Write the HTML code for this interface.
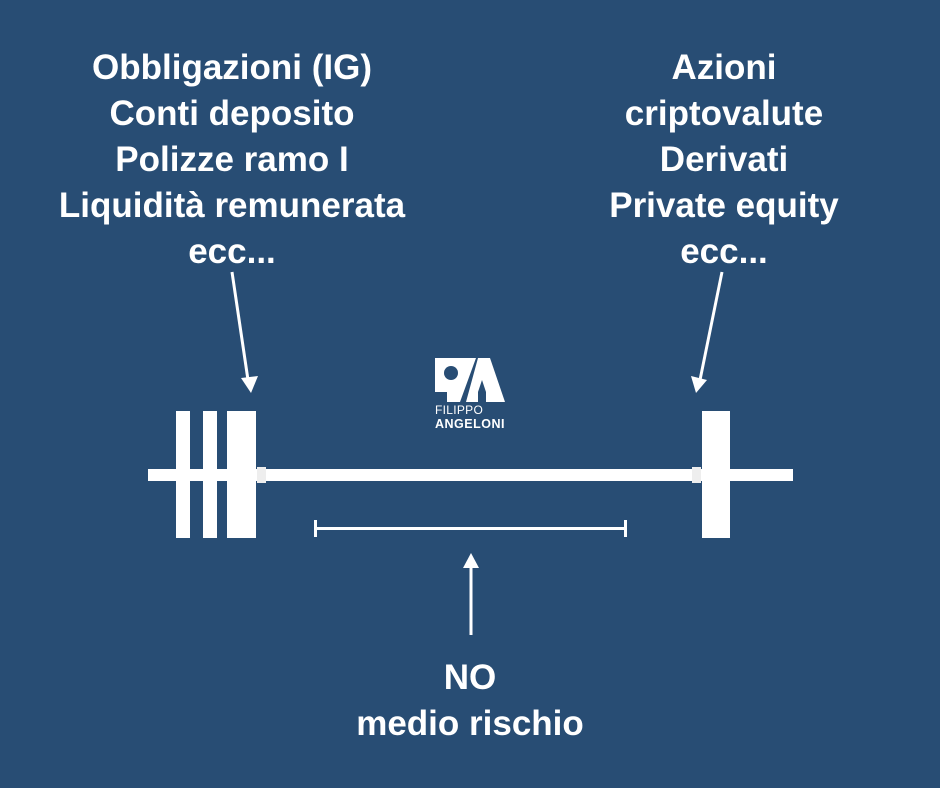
<!DOCTYPE html>
<html><head><meta charset="utf-8"><style>
html,body{margin:0;padding:0}
body{width:940px;height:788px;background:#284d74;position:relative;overflow:hidden;font-family:"Liberation Sans",sans-serif}
.t{position:absolute;color:#fff;font-weight:bold;font-size:35px;line-height:46px;text-align:center;white-space:nowrap}
</style></head><body>
<div class="t" style="left:32px;width:400px;top:45px">Obbligazioni (IG)<br>Conti deposito<br>Polizze ramo I<br>Liquidità remunerata<br>ecc...</div>
<div class="t" style="left:524px;width:400px;top:45px">Azioni<br>criptovalute<br>Derivati<br>Private equity<br>ecc...</div>
<div class="t" style="left:270px;width:400px;top:655px">NO<br>medio rischio</div>
<svg width="940" height="788" style="position:absolute;left:0;top:0">
<g fill="#fff">
<rect x="148" y="469" width="645" height="12"/>
<rect x="176" y="411" width="14" height="127"/>
<rect x="203" y="411" width="14" height="127"/>
<rect x="227" y="411" width="29" height="127"/>
<rect x="257" y="467" width="9" height="16" fill="#eee"/>
<rect x="692" y="467" width="9" height="16" fill="#eee"/>
<rect x="702" y="411" width="28" height="127"/>
<rect x="315" y="527" width="311" height="3"/>
<rect x="314" y="520" width="3" height="17"/>
<rect x="624" y="520" width="3" height="17"/>
</g>
<g stroke="#fff" stroke-width="3" fill="none">
<line x1="232" y1="272" x2="248" y2="380"/>
<line x1="722" y1="272" x2="700" y2="380"/>
<line x1="471" y1="635" x2="471" y2="565"/>
</g>
<g fill="#fff">
<polygon points="241,378 258,376 251,393"/>
<polygon points="691,376 707,380 696,393"/>
<polygon points="463,568 479,568 471,553"/>
<!-- logo -->
<polygon points="435,358 476,358 460,402 447,402 447,392 435,392"/>
<polygon points="478,358 490,358 505,402 466,402"/>
<polygon points="482,380 486,392 486,402 478,402 478,392" fill="#284d74"/>
<circle cx="451" cy="373" r="7" fill="#284d74"/>
</g>
<text x="435" y="414" fill="#fff" font-family="Liberation Sans" font-size="12" letter-spacing="0.3">FILIPPO</text>
<text x="435" y="428" fill="#fff" font-family="Liberation Sans" font-weight="bold" font-size="12.5" letter-spacing="0.5">ANGELONI</text>
</svg>
</body></html>
